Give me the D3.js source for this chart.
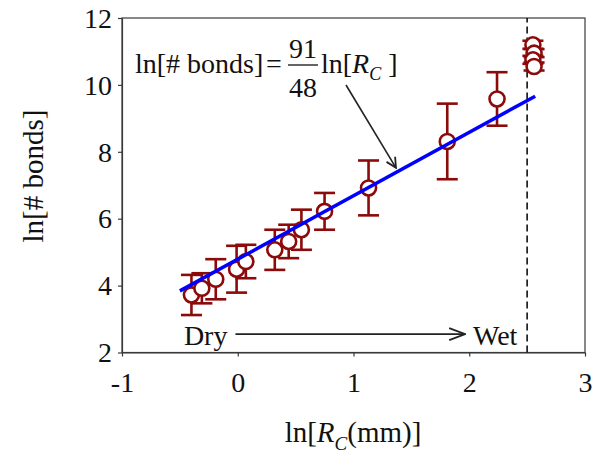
<!DOCTYPE html>
<html>
<head>
<meta charset="utf-8">
<script src="https://cdn.jsdelivr.net/npm/d3@7"></script>
<style>
  body { margin: 0; background: #fff; }
  svg text { font-family: "Liberation Serif", "Times New Roman", serif; fill: #111; }
</style>
</head>
<body>
<svg width="594" height="453"></svg>
<script>
// measured points: ln of cluster radius vs ln of bond count, with error bars
var lnRc    = [-0.40, -0.31, -0.19, -0.01, 0.07, 0.32, 0.44, 0.55, 0.75, 1.13, 1.81, 2.24, 2.55, 2.56, 2.55, 2.56];
var lnBonds = [3.72, 3.92, 4.19, 4.49, 4.72, 5.07, 5.32, 5.67, 6.22, 6.92, 8.31, 9.58, 11.2, 10.95, 10.75, 10.55];
var errBonds = [0.6, 0.45, 0.6, 0.7, 0.5, 0.6, 0.5, 0.6, 0.55, 0.82, 1.13, 0.8, 0.12, 0.12, 0.12, 0.12];

// fit line ln[# bonds] = 91/48 ln[Rc] + b
var fitSlope = 91 / 48;
var fitIntercept = 4.79;
var fitRange = [-0.5, 2.57];

var xTicks = [-1, 0, 1, 2, 3];
var yTicks = [2, 4, 6, 8, 10, 12];
var wetLine = 2.5;

var svg = d3.select("svg");
var margin = {left: 122, right: 9, top: 18, bottom: 100.5};
var W = 594, H = 453;

var x = d3.scaleLinear().domain([-1, 3]).range([margin.left, W - margin.right]);
var y = d3.scaleLinear().domain([2, 12]).range([H - margin.bottom, margin.top]);

var axisColor = "#3a3a3a";

// arrow markers
var defs = svg.append("defs");
defs.append("marker")
  .attr("id", "vhead")
  .attr("viewBox", "0 0 12 12")
  .attr("refX", 11).attr("refY", 6)
  .attr("markerWidth", 12).attr("markerHeight", 12)
  .attr("markerUnits", "userSpaceOnUse")
  .attr("orient", "auto")
  .append("path")
  .attr("d", "M1,1 L11,6 L1,11")
  .attr("fill", "none")
  .attr("stroke", "#222")
  .attr("stroke-width", 1.8);
defs.append("marker")
  .attr("id", "vhead2")
  .attr("viewBox", "0 0 18 14")
  .attr("refX", 17).attr("refY", 7)
  .attr("markerWidth", 18).attr("markerHeight", 14)
  .attr("markerUnits", "userSpaceOnUse")
  .attr("orient", "auto")
  .append("path")
  .attr("d", "M1,1 L17,7 L1,13")
  .attr("fill", "none")
  .attr("stroke", "#222")
  .attr("stroke-width", 1.8);

// frame
svg.append("rect")
  .attr("x", x(-1)).attr("y", y(12))
  .attr("width", x(3) - x(-1)).attr("height", y(2) - y(12))
  .attr("fill", "none").attr("stroke", axisColor).attr("stroke-width", 1.2);

// axes (plain hyphen for negatives, like the original)
var fmt = function(d) { return String(d); };
var xAxis = svg.append("g")
  .attr("transform", "translate(0," + y(2) + ")")
  .call(d3.axisBottom(x).tickValues(xTicks).tickSize(4).tickSizeOuter(0).tickFormat(fmt));
var yAxis = svg.append("g")
  .attr("transform", "translate(" + x(-1) + ",0)")
  .call(d3.axisLeft(y).tickValues(yTicks).tickSize(4).tickSizeOuter(0).tickFormat(fmt));

[xAxis, yAxis].forEach(function(g) {
  g.select(".domain").attr("stroke", axisColor).attr("stroke-width", 1.2);
  g.selectAll(".tick line").attr("stroke", axisColor).attr("stroke-width", 1.2);
  g.selectAll(".tick text")
    .attr("font-family", "Liberation Serif")
    .attr("font-size", 28)
    .attr("fill", "#111");
});
xAxis.selectAll(".tick text").attr("dy", null).attr("y", 39);
yAxis.selectAll(".tick text").attr("x", -10).attr("dy", "0.33em");

// dashed wet boundary
svg.append("line")
  .attr("x1", x(wetLine)).attr("x2", x(wetLine))
  .attr("y1", y(2)).attr("y2", y(12))
  .attr("stroke", "#111").attr("stroke-width", 1.6)
  .attr("stroke-dasharray", "7,4");

// error bars
var red = "#8b0a0a";
var pts = lnRc.map(function(d, i) { return {x: d, y: lnBonds[i], e: errBonds[i]}; });
var eb = svg.append("g").attr("stroke", red).attr("stroke-width", 2.6).attr("fill", "none");
eb.selectAll("line.v").data(pts).enter().append("line")
  .attr("x1", function(d) { return x(d.x); }).attr("x2", function(d) { return x(d.x); })
  .attr("y1", function(d) { return y(d.y - d.e); }).attr("y2", function(d) { return y(d.y + d.e); });
eb.selectAll("line.top").data(pts).enter().append("line")
  .attr("x1", function(d) { return x(d.x) - 10.5; }).attr("x2", function(d) { return x(d.x) + 10.5; })
  .attr("y1", function(d) { return y(d.y + d.e); }).attr("y2", function(d) { return y(d.y + d.e); });
eb.selectAll("line.bot").data(pts).enter().append("line")
  .attr("x1", function(d) { return x(d.x) - 10.5; }).attr("x2", function(d) { return x(d.x) + 10.5; })
  .attr("y1", function(d) { return y(d.y - d.e); }).attr("y2", function(d) { return y(d.y - d.e); });

// circles
svg.append("g").selectAll("circle").data(pts).enter().append("circle")
  .attr("cx", function(d) { return x(d.x); })
  .attr("cy", function(d) { return y(d.y); })
  .attr("r", 7.5)
  .attr("fill", "#fff")
  .attr("stroke", red)
  .attr("stroke-width", 2.6);

// fit line
svg.append("path")
  .datum(fitRange)
  .attr("d", d3.line()
    .x(function(d) { return x(d); })
    .y(function(d) { return y(fitSlope * d + fitIntercept); }))
  .attr("stroke", "#0000ff").attr("stroke-width", 3.5).attr("fill", "none");

// dry -> wet arrow
svg.append("line")
  .attr("x1", x(-0.02)).attr("x2", x(1.965))
  .attr("y1", y(2.55)).attr("y2", y(2.55))
  .attr("stroke", "#222").attr("stroke-width", 1.8)
  .attr("marker-end", "url(#vhead2)");
svg.append("text").attr("x", x(-0.02) - 8).attr("y", 345)
  .attr("text-anchor", "end").attr("font-size", 28).text("Dry");
svg.append("text").attr("x", 473).attr("y", 345)
  .attr("font-size", 28).text("Wet");

// equation annotation
var eq = svg.append("g").attr("font-size", 28);
eq.append("text").attr("x", 135).attr("y", 73).text("ln[# bonds]");
eq.append("text").attr("x", 266).attr("y", 73).text("=");
eq.append("text").attr("x", 303).attr("y", 58).attr("text-anchor", "middle").text("91");
eq.append("line").attr("x1", 288).attr("x2", 318).attr("y1", 65).attr("y2", 65)
  .attr("stroke", "#111").attr("stroke-width", 1.3);
eq.append("text").attr("x", 303).attr("y", 97).attr("text-anchor", "middle").text("48");
var rc = eq.append("text").attr("x", 321).attr("y", 73);
rc.append("tspan").text("ln[");
rc.append("tspan").attr("font-style", "italic").text("R");
rc.append("tspan").attr("font-style", "italic").attr("font-size", 18).attr("dy", 7).text("C");
rc.append("tspan").attr("dy", -7).text(" ]");

svg.append("line")
  .attr("x1", 346).attr("y1", 85)
  .attr("x2", x(1.367)).attr("y2", y(7.52))
  .attr("stroke", "#222").attr("stroke-width", 1.6)
  .attr("marker-end", "url(#vhead)");

// axis titles
var xt = svg.append("text").attr("x", 353).attr("y", 442)
  .attr("text-anchor", "middle").attr("font-size", 29);
xt.append("tspan").text("ln[");
xt.append("tspan").attr("font-style", "italic").text("R");
xt.append("tspan").attr("font-style", "italic").attr("font-size", 19).attr("dy", 8).text("C");
xt.append("tspan").attr("dy", -8).text("(mm)]");

svg.append("text")
  .attr("transform", "translate(43,176) rotate(-90)")
  .attr("text-anchor", "middle").attr("font-size", 29)
  .text("ln[# bonds]");
</script>
</body>
</html>
